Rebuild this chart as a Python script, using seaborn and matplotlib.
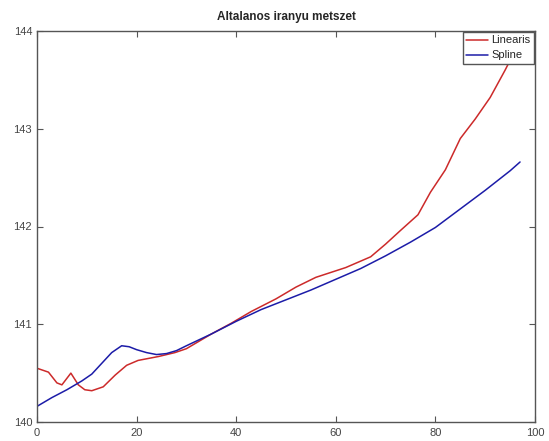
import matplotlib
matplotlib.use("Agg")
import matplotlib.pyplot as plt
import seaborn as sns

# values
lin_x = [0, 2.3, 4, 5, 6.8, 8.3, 9.6, 11, 13.3, 15.7, 18, 20.3, 24.4, 27.7, 30,
         35, 39, 43, 48, 52, 56, 62, 67, 70, 73, 76.5, 79, 82, 85, 88, 91, 94, 97]
lin_y = [140.55, 140.51, 140.40, 140.38, 140.50, 140.38, 140.33, 140.32, 140.36,
         140.48, 140.58, 140.63, 140.67, 140.71, 140.75, 140.90, 141.01, 141.13,
         141.26, 141.38, 141.48, 141.58, 141.69, 141.82, 141.96, 142.12, 142.35,
         142.58, 142.90, 143.10, 143.32, 143.60, 143.90]

spl_x = [0, 3, 6, 9, 11, 13, 15, 17, 18.5, 20, 22, 24, 26, 28, 30, 35, 40, 45,
         50, 55, 60, 65, 70, 75, 80, 85, 90, 95, 97]
spl_y = [140.16, 140.25, 140.33, 140.42, 140.49, 140.60, 140.71, 140.78, 140.77,
         140.74, 140.71, 140.69, 140.70, 140.73, 140.78, 140.90, 141.03, 141.15,
         141.25, 141.35, 141.46, 141.57, 141.70, 141.84, 141.99, 142.18, 142.37,
         142.57, 142.66]

x_ticks = [0, 20, 40, 60, 80, 100]
y_ticks = [140, 141, 142, 143, 144]

sns.set_style("ticks")
plt.rcParams["font.family"] = ["Liberation Sans", "DejaVu Sans"]

fig = plt.figure(figsize=(5.49, 4.41), dpi=100)
ax = fig.add_axes([37 / 549, 1 - 422 / 441, (535 - 37) / 549, (422 - 31) / 441])

sns.lineplot(x=lin_x, y=lin_y, color="#cc2a2a", linewidth=1.1, label="Linearis", ax=ax)
sns.lineplot(x=spl_x, y=spl_y, color="#1c1ca8", linewidth=1.1, label="Spline", ax=ax)

ax.set_xlim(0, 100)
ax.set_ylim(140, 144)
ax.set_xticks(x_ticks)
ax.set_yticks(y_ticks)
ax.tick_params(direction="in", length=4, width=0.8, colors="#555555",
               labelsize=8, top=True, right=True, labelcolor="#444444")
ax.tick_params(axis="x", pad=4)
for s in ax.spines.values():
    s.set_visible(True)
    s.set_color("#555555")
    s.set_linewidth(1.0)

ax.set_title("Altalanos iranyu metszet", fontsize=8.5, fontweight="bold", pad=8)

leg = ax.legend(loc="upper right", fontsize=8, frameon=True, fancybox=False,
                borderaxespad=0.1, handlelength=2.0, handletextpad=0.3,
                borderpad=0.3, labelspacing=0.45)
leg.get_frame().set_edgecolor("#555555")
leg.get_frame().set_linewidth(1.0)
leg.get_frame().set_alpha(1)

fig.savefig("out.png", dpi=100)
